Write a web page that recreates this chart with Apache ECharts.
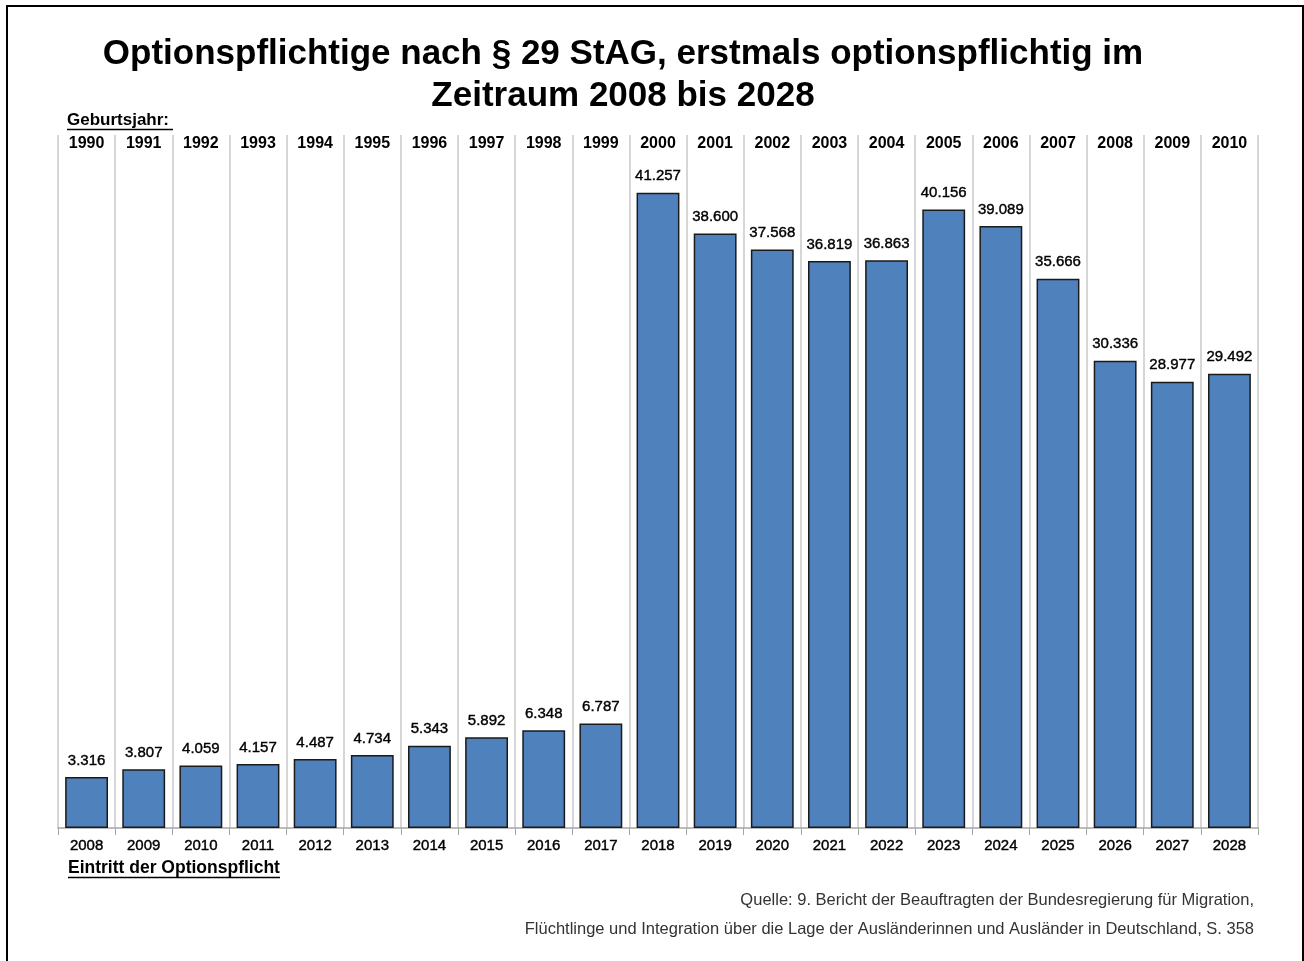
<!DOCTYPE html>
<html><head><meta charset="utf-8">
<script src="https://cdn.jsdelivr.net/npm/echarts@6/dist/echarts.min.js"></script>
<style>html,body{margin:0;padding:0;background:#fff}#c{width:1304px;height:961px}</style>
</head><body><div id="c"></div>
<script>
const entryYears = ['2008','2009','2010','2011','2012','2013','2014','2015','2016','2017','2018','2019','2020','2021','2022','2023','2024','2025','2026','2027','2028'];
const birthYears = ['1990','1991','1992','1993','1994','1995','1996','1997','1998','1999','2000','2001','2002','2003','2004','2005','2006','2007','2008','2009','2010'];
const values = [3316,3807,4059,4157,4487,4734,5343,5892,6348,6787,41257,38600,37568,36819,36863,40156,39089,35666,30336,28977,29492];

function fmt(v){ return String(v).replace(/\B(?=(\d{3})+(?!\d))/g,'.'); }
const F = '"Liberation Sans", Arial, sans-serif';
const chart = echarts.init(document.getElementById('c'), null, {renderer:'canvas'});
chart.setOption({
  animation:false,
  backgroundColor:'#fff',
  title:{
    text:'Optionspflichtige nach § 29 StAG, erstmals optionspflichtig im\nZeitraum 2008 bis 2028',
    left:618, top:28, textAlign:'center',
    textStyle:{fontFamily:F,fontSize:35,fontWeight:'bold',color:'#000',lineHeight:42}
  },
  grid:{left:58,right:46,top:135,bottom:133},
  xAxis:[{
    type:'category', data:entryYears, position:'bottom',
    axisLine:{show:true,lineStyle:{color:'#a6a6a6',width:1.5}},
    axisTick:{show:true,alignWithLabel:false,length:7,lineStyle:{color:'#a6a6a6'}},
    axisLabel:{fontFamily:F,fontSize:15,color:'#000',margin:10,textBorderColor:'#000',textBorderWidth:0.4},
    splitLine:{show:true,lineStyle:{color:'#c8c8c8',width:1.5}}
  },{
    type:'category', data:birthYears, position:'top',
    axisLine:{show:false}, axisTick:{show:false},
    axisLabel:{inside:true,fontFamily:F,fontSize:16,fontWeight:'bold',color:'#000',margin:1}
  }],
  yAxis:{type:'value',min:0,max:45000,show:false,splitLine:{show:false}},
  series:[{
    type:'bar', data:values, xAxisIndex:0, barWidth:'75%',
    itemStyle:{color:'#4f81bd',borderColor:'#1a1a1a',borderWidth:1.5},
    label:{show:true,position:'top',distance:9,fontFamily:F,fontSize:15,color:'#000',
      textBorderColor:'#000',textBorderWidth:0.4,
      formatter:p=>fmt(p.value)}
  }],
  graphic:[
    {type:'rect',shape:{x:7,y:6,width:1296,height:970},style:{fill:null,stroke:'#000',lineWidth:2},silent:true},
    {type:'text',left:67,top:112,style:{text:'Geburtsjahr:',font:'bold 17px '+F,fill:'#000'}},
    {type:'line',shape:{x1:67,y1:129.5,x2:173,y2:129.5},style:{stroke:'#000',lineWidth:1.5}},
    {type:'text',left:68,top:859,style:{text:'Eintritt der Optionspflicht',font:'bold 17.5px '+F,fill:'#000'}},
    {type:'line',shape:{x1:68,y1:877.5,x2:280,y2:877.5},style:{stroke:'#000',lineWidth:1.5}},
    {type:'text',right:50,top:892,style:{text:'Quelle: 9. Bericht der Beauftragten der Bundesregierung für Migration,',font:'16.5px '+F,fill:'#333',textAlign:'right'}},
    {type:'text',right:50,top:921,style:{text:'Flüchtlinge und Integration über die Lage der Ausländerinnen und Ausländer in Deutschland, S. 358',font:'16.5px '+F,fill:'#333',textAlign:'right'}}
  ]
});
</script></body></html>
